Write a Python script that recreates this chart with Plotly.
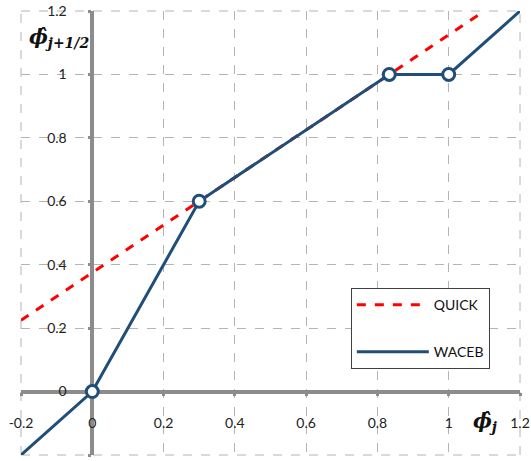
import plotly.graph_objects as go

# data
quick_x = [-0.2, 1.1]
quick_y = [0.225, 1.2]
waceb_x = [-0.2, 0.0, 0.3, 0.8333, 1.0, 1.2]
waceb_y = [-0.2, 0.0, 0.6, 1.0, 1.0, 1.2]
node_x = [0.0, 0.3, 0.8333, 1.0]
node_y = [0.0, 0.6, 1.0, 1.0]
tick_vals = [-0.2, 0.0, 0.2, 0.4, 0.6, 0.8, 1.0, 1.2]
tick_text = ["-0.2", "0", "0.2", "0.4", "0.6", "0.8", "1", "1.2"]

blue = "#1F4E79"
axis_gray = "#8C8C8C"
grid_gray = "#B4B4B4"
font = "Lato, 'Open Sans', sans-serif"

fig = go.Figure()
fig.add_trace(go.Scatter(x=quick_x, y=quick_y, mode="lines", name="QUICK",
                         line=dict(color="#FF0000", width=3, dash="dash"),
                         legendgroup="q", cliponaxis=False))
fig.add_trace(go.Scatter(x=waceb_x, y=waceb_y, mode="lines", name="WACEB",
                         line=dict(color=blue, width=3), legendgroup="w", cliponaxis=False))
fig.add_trace(go.Scatter(x=node_x, y=node_y, mode="markers", showlegend=False, cliponaxis=False,
                         marker=dict(size=12, color="white", line=dict(color=blue, width=3))))

pos0 = 0.2 / 1.4
axis_common = dict(range=[-0.2, 1.2], tickvals=tick_vals, ticktext=tick_text,
                   showgrid=True, gridcolor=grid_gray, griddash="dash", gridwidth=1,
                   zeroline=False, showline=True, linecolor=axis_gray, linewidth=3.5,
                   ticks="outside", ticklen=3, tickwidth=3, tickcolor=axis_gray,
                   tickfont=dict(family=font, size=14, color="#222222"),
                   anchor="free", position=pos0, automargin=False, layer="below traces")
fig.update_xaxes(**axis_common, ticklabelstandoff=15)
fig.update_yaxes(**axis_common, ticklabelstandoff=18)

# plot-area frame drawn as dashed gridline edges
for edge in [dict(x0=0, x1=1, y0=0, y1=0), dict(x0=0, x1=1, y0=1, y1=1),
             dict(x0=0, x1=0, y0=0, y1=1), dict(x0=1, x1=1, y0=0, y1=1)]:
    fig.add_shape(type="line", xref="paper", yref="paper", layer="below",
                  line=dict(color=grid_gray, width=1, dash="dash"), **edge)

fig.add_annotation(text="<b><i>ϕ̂</i></b><sub><b><i>j+1/2</i></b></sub>",
                   xref="paper", yref="paper", x=0.012, y=0.94, xanchor="left", yanchor="middle",
                   showarrow=False, font=dict(family="DejaVu Serif, serif", size=20, color="#111111"))
fig.add_annotation(text="<b><i>ϕ̂</i></b><sub><b><i>j</i></b></sub>",
                   xref="paper", yref="paper", x=0.93, y=0.075, xanchor="center", yanchor="middle",
                   showarrow=False, font=dict(family="DejaVu Serif, serif", size=20, color="#111111"))

fig.update_layout(width=531, height=461, margin=dict(l=21, r=11, t=11, b=6),
                  paper_bgcolor="white", plot_bgcolor="white",
                  legend=dict(x=0.661, y=0.376, xanchor="left", yanchor="top",
                              bordercolor="#404040", borderwidth=1, bgcolor="white",
                              font=dict(family=font, size=14, color="#111111"),
                              itemwidth=72, tracegroupgap=26),
                  showlegend=True)

fig.write_html("out.html")
